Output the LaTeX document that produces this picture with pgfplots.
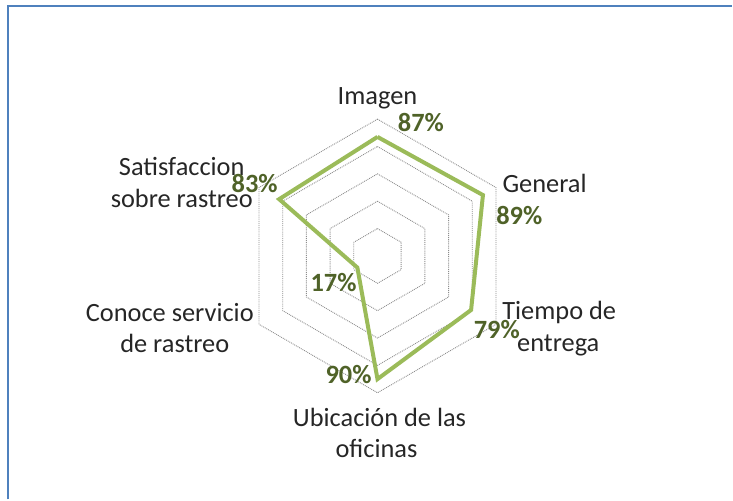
\documentclass[border=0pt]{standalone}
\usepackage{pgfplots}
\pgfplotsset{compat=1.18}
\usepackage{pgfplotstable}
\usepackage{fontspec}
\setmainfont{Carlito}
\definecolor{serie}{HTML}{9BBB59}
\definecolor{lbl}{HTML}{4F6228}
\definecolor{grd}{HTML}{8C8C8C}
\definecolor{frame}{HTML}{4F81BD}

% angle (deg) and value (%)
\pgfplotstableread{
a v
90 87
30 89
-30 79
-90 90
-150 17
150 83
90 87
}\datatab

\pgfplotstableread{
a r
90 1
30 1
-30 1
-90 1
-150 1
150 1
90 1
}\hexa

\begin{document}
\begin{tikzpicture}
\begin{axis}[
  scale only axis, width=733bp, height=500bp,
  xmin=0, xmax=733, ymin=0, ymax=500,
  hide axis, clip=false,
]
\path (axis cs:0,0) rectangle (axis cs:733,500);
% frame
\draw[frame, line width=2bp] (axis cs:8,0) -- (axis cs:8,494) -- (axis cs:733,494);
% grid hexagons
\pgfplotsinvokeforeach{20,40,60,80,100}{
  \addplot[grd, densely dotted, line width=0.9bp, no markers]
    table[x expr={378+1.37*#1*\thisrow{r}*cos(\thisrow{a})}, y expr={243.7+1.37*#1*\thisrow{r}*sin(\thisrow{a})}] {\hexa};
}
% data
\addplot[serie, line width=4bp, no markers, line join=miter]
  table[x expr={378+1.37*\thisrow{v}*cos(\thisrow{a})}, y expr={243.7+1.37*\thisrow{v}*sin(\thisrow{a})}] {\datatab};

% category labels
\begin{scope}[every node/.style={font=\fontsize{26.5}{32}\selectfont, text=black!85, anchor=base, inner sep=0pt}]
\node at (axis cs:378,395) {Imagen};
\node[anchor=base west] at (axis cs:503,307.3) {General};
\node at (axis cs:560,180) {Tiempo de};
\node at (axis cs:559,148) {entrega};
\node at (axis cs:380,73) {Ubicación de las};
\node at (axis cs:377,42) {oficinas};
\node at (axis cs:170,178.3) {Conoce servicio};
\node at (axis cs:175,147.3) {de rastreo};
\node at (axis cs:182,324) {Satisfaccion};
\node at (axis cs:182,292) {sobre rastreo};
\end{scope}
% value labels
\begin{scope}[every node/.style={font=\fontsize{26.5}{32}\selectfont\bfseries, text=lbl, anchor=base, inner sep=0pt}]
\node at (axis cs:421.5,368) {87\%};
\node at (axis cs:520,275) {89\%};
\node at (axis cs:497.5,161) {79\%};
\node at (axis cs:349,116) {90\%};
\node at (axis cs:334,208) {17\%};
\node at (axis cs:255,307) {83\%};
\end{scope}
\end{axis}
\end{tikzpicture}
\end{document}
